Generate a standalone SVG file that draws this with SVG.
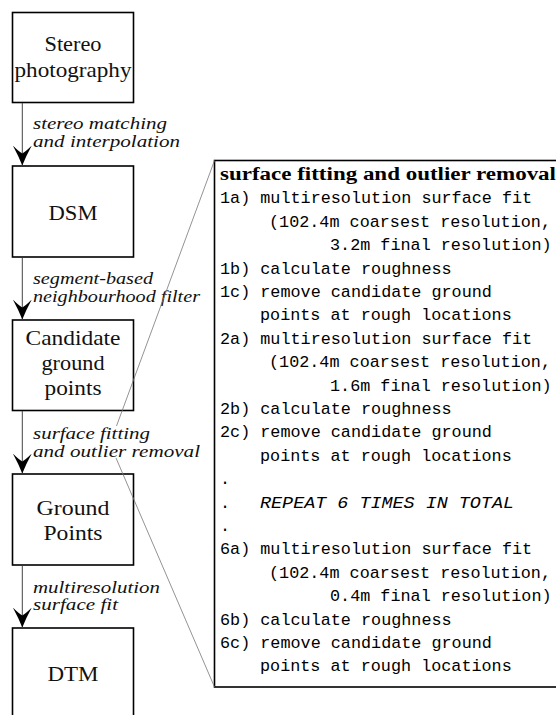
<svg xmlns="http://www.w3.org/2000/svg" width="556" height="715" viewBox="0 0 556 715">
<style>
.box{fill:#fff;stroke:#000;stroke-width:1.6}
.node{font-family:"Liberation Serif","Times New Roman",serif;font-size:21px;fill:#111;text-anchor:middle}
.lbl{font-family:"Liberation Serif","Times New Roman",serif;font-size:17px;font-style:italic;fill:#111}
.edge{stroke:#444;stroke-width:1;fill:none}
.call{stroke:#777;stroke-width:0.8;fill:none}
.mono{font-family:"Liberation Mono","Courier New",monospace;font-size:16.8px;fill:#000}
.title{font-family:"Liberation Serif","Times New Roman",serif;font-size:18px;font-weight:bold;fill:#000}
</style>
<defs>
<marker id="ah" markerUnits="userSpaceOnUse" viewBox="0 0 20 20" markerWidth="20" markerHeight="20" refX="20" refY="10" orient="auto">
<path d="M20,10 Q11,6.5 0,0.5 Q6,6.5 8,10 Q6,13.5 0,19.5 Q11,13.5 20,10 Z" fill="#000"/>
</marker>
</defs>
<rect width="556" height="715" fill="#fff"/>

<g id="n-detail">
<rect class="box" x="214.5" y="160.5" width="400" height="526.5"/>
<text class="title" x="220" y="180" textLength="336" lengthAdjust="spacingAndGlyphs">surface fitting and outlier removal</text>
<text class="mono" x="220" y="203.4">1a) multiresolution surface fit</text>
<text class="mono" x="269" y="226.8">(102.4m coarsest resolution,</text>
<text class="mono" x="330" y="250.2">3.2m final resolution)</text>
<text class="mono" x="220" y="273.6">1b) calculate roughness</text>
<text class="mono" x="220" y="297">1c) remove candidate ground</text>
<text class="mono" x="260" y="320.4">points at rough locations</text>
<text class="mono" x="220" y="343.8">2a) multiresolution surface fit</text>
<text class="mono" x="269" y="367.2">(102.4m coarsest resolution,</text>
<text class="mono" x="330" y="390.6">1.6m final resolution)</text>
<text class="mono" x="220" y="414">2b) calculate roughness</text>
<text class="mono" x="220" y="437.4">2c) remove candidate ground</text>
<text class="mono" x="260" y="460.8">points at rough locations</text>
<text class="mono" x="220" y="484.2">.</text>
<text class="mono" x="220" y="507.6">.</text>
<text class="mono" x="260" y="507.6" font-style="italic" textLength="254" lengthAdjust="spacingAndGlyphs">REPEAT 6 TIMES IN TOTAL</text>
<text class="mono" x="220" y="531">.</text>
<text class="mono" x="220" y="554.4">6a) multiresolution surface fit</text>
<text class="mono" x="269" y="577.8">(102.4m coarsest resolution,</text>
<text class="mono" x="330" y="601.2">0.4m final resolution)</text>
<text class="mono" x="220" y="624.6">6b) calculate roughness</text>
<text class="mono" x="220" y="648">6c) remove candidate ground</text>
<text class="mono" x="260" y="671.4">points at rough locations</text>
</g>

<g id="n-stereo">
<rect class="box" x="12.5" y="12.5" width="121" height="90"/>
<text class="node" x="73" y="51" textLength="57" lengthAdjust="spacingAndGlyphs">Stereo</text>
<text class="node" x="73" y="77" textLength="117" lengthAdjust="spacingAndGlyphs">photography</text>
</g>
<g id="n-dsm">
<rect class="box" x="12.5" y="166" width="121" height="91"/>
<text class="node" x="73" y="220" textLength="49" lengthAdjust="spacingAndGlyphs">DSM</text>
</g>
<g id="n-candidate">
<rect class="box" x="12.5" y="320" width="121" height="90.5"/>
<text class="node" x="73" y="345" textLength="95" lengthAdjust="spacingAndGlyphs">Candidate</text>
<text class="node" x="73" y="370" textLength="63" lengthAdjust="spacingAndGlyphs">ground</text>
<text class="node" x="73" y="395" textLength="57" lengthAdjust="spacingAndGlyphs">points</text>
</g>
<g id="n-ground">
<rect class="box" x="12.5" y="474" width="121" height="91"/>
<text class="node" x="73" y="515" textLength="73" lengthAdjust="spacingAndGlyphs">Ground</text>
<text class="node" x="73" y="540" textLength="59" lengthAdjust="spacingAndGlyphs">Points</text>
</g>
<g id="n-dtm">
<rect class="box" x="12.5" y="628" width="121" height="91"/>
<text class="node" x="73" y="681" textLength="51" lengthAdjust="spacingAndGlyphs">DTM</text>
</g>

<g id="connectors">
<line class="edge" x1="22.3" y1="103" x2="22.3" y2="165.5" marker-end="url(#ah)"/>
<line class="edge" x1="22.3" y1="257.5" x2="22.3" y2="319.5" marker-end="url(#ah)"/>
<line class="edge" x1="22.3" y1="411" x2="22.3" y2="473.5" marker-end="url(#ah)"/>
<line class="edge" x1="22.3" y1="565.5" x2="22.3" y2="627.5" marker-end="url(#ah)"/>
<text class="lbl" x="33" y="129" textLength="134" lengthAdjust="spacingAndGlyphs">stereo matching</text>
<text class="lbl" x="33" y="147" textLength="147" lengthAdjust="spacingAndGlyphs">and interpolation</text>
<text class="lbl" x="33" y="284" textLength="120" lengthAdjust="spacingAndGlyphs">segment-based</text>
<text class="lbl" x="33" y="302" textLength="167" lengthAdjust="spacingAndGlyphs">neighbourhood filter</text>
<text class="lbl" x="33" y="439" textLength="117" lengthAdjust="spacingAndGlyphs">surface fitting</text>
<text class="lbl" x="33" y="457" textLength="167" lengthAdjust="spacingAndGlyphs">and outlier removal</text>
<text class="lbl" x="33" y="593" textLength="127" lengthAdjust="spacingAndGlyphs">multiresolution</text>
<text class="lbl" x="33" y="610" textLength="85" lengthAdjust="spacingAndGlyphs">surface fit</text>
<line class="call" x1="214.5" y1="160.5" x2="116.5" y2="426"/>
<line class="call" x1="116" y1="458" x2="214.5" y2="687"/>
</g>
</svg>
